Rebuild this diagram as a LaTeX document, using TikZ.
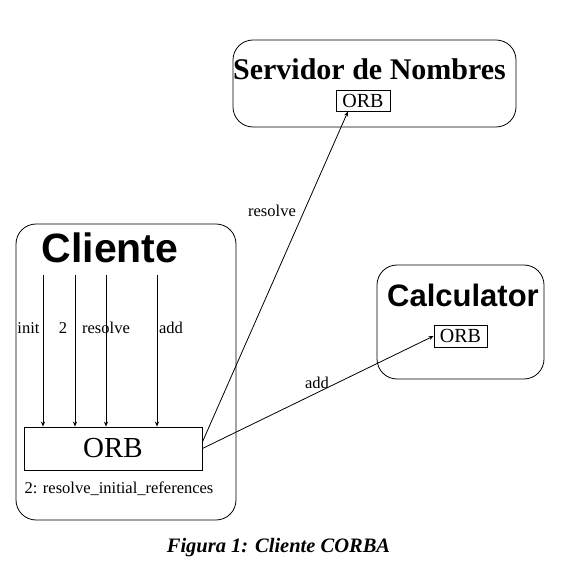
\documentclass[tikz,border=0pt]{standalone}
\usepackage{fontspec}
\setmainfont{Liberation Serif}
\setsansfont{Liberation Sans}
\usepackage{tikz}
\usetikzlibrary{arrows.meta}
\usetikzlibrary{positioning}

\begin{document}
\begin{tikzpicture}[x=1pt, y=-1pt, line width=0.8pt,
		process/.style={draw, rounded corners=20pt, inner sep=0pt},
		orbbox/.style={draw, inner sep=0pt, font=\fontsize{20}{22}\selectfont},
		call/.style={-{Stealth[length=5pt, width=4pt]}},
		lbl/.style={anchor=base, inner sep=0pt, font=\fontsize{16.5}{18}\selectfont}]
				\useasboundingbox (0,0) rectangle (584,572);
				% boxes of the three processes
				\node[process, minimum width=220pt, minimum height=296pt] (cliente) at (126,372) {};
				\node[process, minimum width=283pt, minimum height=87pt] (servidor) at (374.5,83.5) {};
				\node[process, minimum width=167pt, minimum height=114pt] (calc) at (460.5,322) {};
				
				\node[anchor=base, inner sep=0pt, font=\sffamily\bfseries\fontsize{41}{44}\selectfont] (tCliente) at (110,262) {Cliente};
				\node[anchor=base, inner sep=0pt, font=\bfseries\fontsize{30}{32}\selectfont] (tServidor) at (369.5,80) {Servidor de Nombres};
				\node[anchor=base, inner sep=0pt, font=\sffamily\bfseries\fontsize{31}{33}\selectfont] (tCalc) at (463,307) {Calculator};
				
				% ORBs
				\node[orbbox, minimum width=178pt, minimum height=43pt, font=\fontsize{29}{31}\selectfont] (orbC) at (113,448.5) {ORB};
				\node[orbbox, minimum width=54pt, minimum height=21pt] (orbS) at (363,100.5) {ORB};
				\node[orbbox, minimum width=53pt, minimum height=22pt] (orbK) at (460.5,336) {ORB};
				\node[lbl] (refs) at (119,493) {2: resolve\_initial\_references};
				
				% calls inside the client
				\coordinate (initTop) at (43,275);
				\coordinate (dosTop) at (75,275);
				\coordinate (resTop) at (106,275);
				\coordinate (addTop) at (157,275);
				\draw[call] (initTop) -- (initTop |- orbC.north);
				\draw[call] (dosTop) -- (dosTop |- orbC.north);
				\draw[call] (resTop) -- (resTop |- orbC.north);
				\draw[call] (addTop) -- (addTop |- orbC.north);
				\node[lbl] (lInit) at (28.5,334) {init};
				\node[lbl] (lDos) at (63,334) {2};
				\node[lbl] (lRes) at (106,334) {resolve};
				\node[lbl] (lAdd) at (171,334) {add};
				
				% calls to the servers
				\draw[call] ([yshift=6.5pt]orbC.east) -- ([xshift=-15pt]orbS.south);
				\draw[call] (orbC.east) -- (orbK.west);
				\node[lbl] (lResolve) at (272,217) {resolve};
				\node[lbl] (lAddK) at (317,388) {add};
				
				\node[anchor=base, inner sep=0pt, font=\bfseries\itshape\fontsize{20.5}{22}\selectfont] (caption) at (278.5,552) {Figura 1: Cliente CORBA};
			\end{tikzpicture}
\end{document}
